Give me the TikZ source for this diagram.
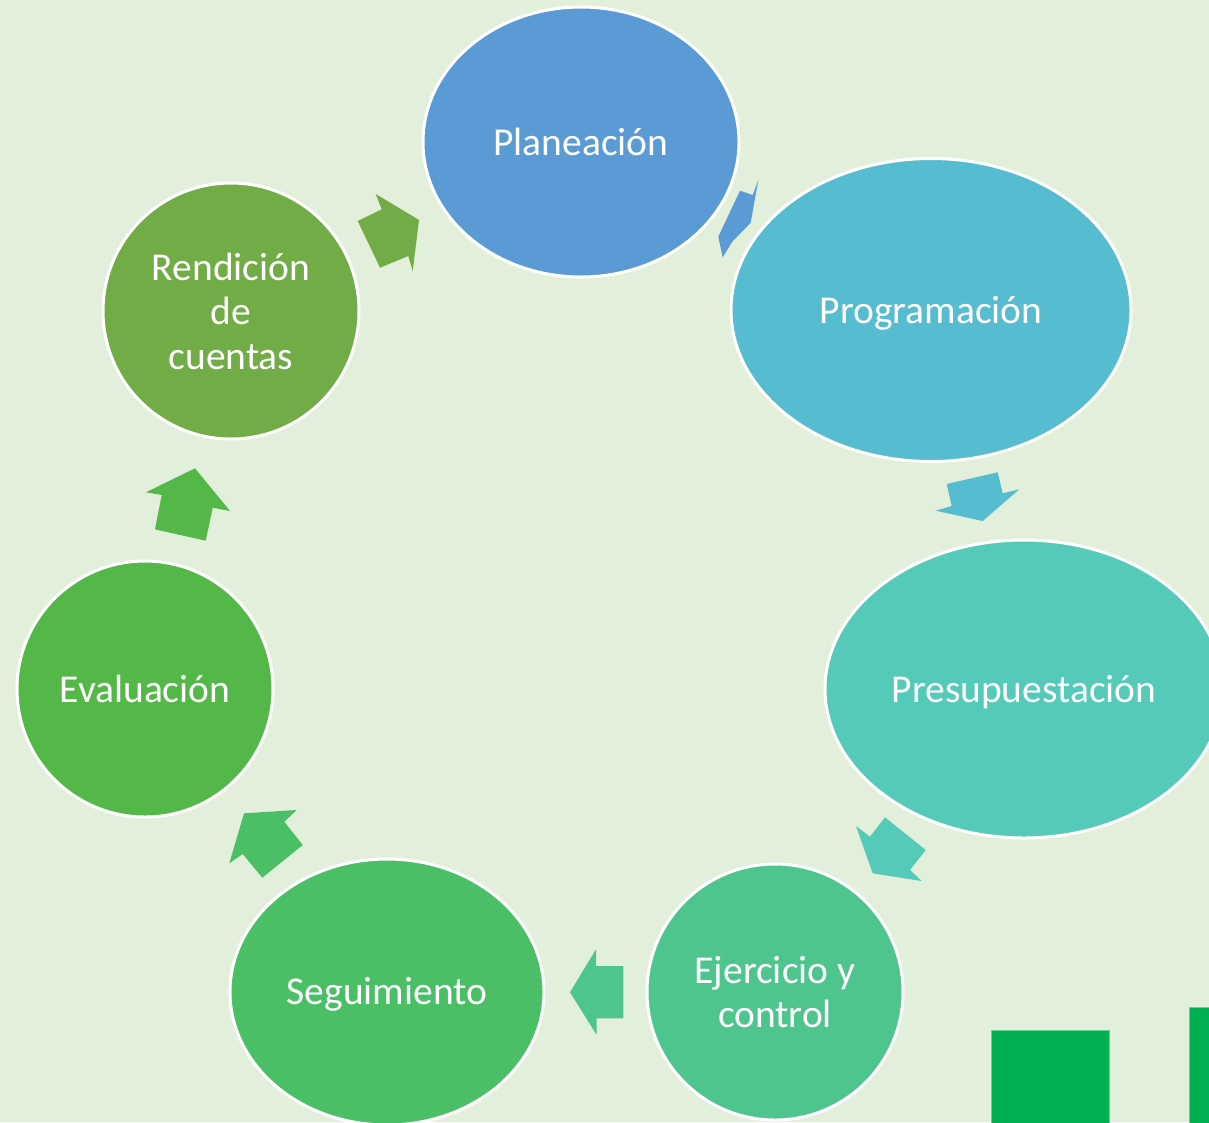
\documentclass[tikz,border=0pt]{standalone}
\usepackage{fontspec}
\setmainfont{Carlito}
\usetikzlibrary{shapes.geometric}
\definecolor{bg}{HTML}{E2EFDA}
\definecolor{cPlan}{HTML}{5B9BD5}
\definecolor{cProg}{HTML}{56BCD0}
\definecolor{cPres}{HTML}{55CAB8}
\definecolor{cEjer}{HTML}{4FC58E}
\definecolor{cSeg}{HTML}{4ABF66}
\definecolor{cEval}{HTML}{53B848}
\definecolor{cRend}{HTML}{72AC47}
\definecolor{cSq}{HTML}{00AF50}
\tikzset{
  stage/.style={ellipse, draw=white, line width=3pt, text=white, align=center,
    font=\fontsize{39.5}{44.5}\selectfont, inner sep=0pt},
  blockarrow/.style={draw=none},
}
\begin{document}
\begin{tikzpicture}[x=1pt,y=-1pt]
\useasboundingbox (0,0) rectangle (1209,1122);
\clip (0,0) rectangle (1209,1122);
\fill[bg] (0,0) rectangle (1209,1122);
% squares
\fill[cSq] (991,1030) rectangle (1109,1130);
\draw[cSq!60!white, line width=0.8pt] (991,1130) -- (991,1030) -- (1109,1030) -- (1109,1130);
\fill[cSq] (1189,1007) rectangle (1215,1130);
\draw[cSq!60!white, line width=0.8pt] (1189,1130) -- (1189,1007) -- (1215,1007);
% stages
\node[stage, fill=cPlan, minimum width=316pt, minimum height=270pt] (plan) at (581,142) {Planeación};
\node[stage, fill=cProg, minimum width=400pt, minimum height=303pt, text height=29.6pt, text depth=2pt] (prog) at (931,310) {Programación};
\node[stage, fill=cPres, minimum width=398pt, minimum height=298pt, text height=29.6pt, text depth=2pt] (pres) at (1024,689) {Presupuestación};
\node[stage, fill=cEjer, minimum width=256pt, minimum height=256pt] (ejer) at (775,992) {Ejercicio y\\control};
\node[stage, fill=cSeg, minimum width=314pt, minimum height=266pt, text height=26pt, text depth=2pt] (seg) at (387,992) {Seguimiento};
\node[stage, fill=cEval, minimum width=256pt, minimum height=256pt] (eval) at (145,689) {Evaluación};
\node[stage, fill=cRend, minimum width=256pt, minimum height=256pt] (rend) at (231,311) {Rendición\\de\\cuentas};
% block arrows
\fill[cPlan, blockarrow] (740,190.7) -- (752.7,195) -- (758.3,180) -- (750.7,222.7) -- (732.3,241.7) -- (722.7,257.3) -- (718.3,236.7) -- cycle;
\fill[cProg, blockarrow] (946.7,484) -- (997.7,472.3) -- (1002.7,493.3) -- (1019.3,489.3) -- (982.7,521) -- (935.7,510.7) -- (951.7,506) -- cycle;
\fill[cPres, blockarrow] (856,826) -- (870,836.7) -- (885,817.3) -- (925.7,850) -- (910,870) -- (921.7,881) -- (872.7,873.3) -- cycle;
\fill[cEjer, blockarrow] (596,949.3) -- (596,966) -- (623.3,966) -- (623.3,1018.3) -- (596.7,1018.3) -- (596.7,1035) -- (570,992.3) -- cycle;
\fill[cSeg, blockarrow] (244,813.3) -- (296.7,810) -- (284.3,821.7) -- (302.7,845) -- (262.3,877.7) -- (242.7,854) -- (229.3,863.3) -- cycle;
\fill[cEval, blockarrow] (146,492.3) -- (195,468.3) -- (230,511) -- (212.7,507.7) -- (205.7,540.7) -- (155,529.3) -- (161.7,495) -- cycle;
\fill[cRend, blockarrow] (357.7,221) -- (381.7,209.3) -- (375.7,194) -- (419,220) -- (412.7,271) -- (408.3,256) -- (380,267.7) -- cycle;
\end{tikzpicture}
\end{document}
